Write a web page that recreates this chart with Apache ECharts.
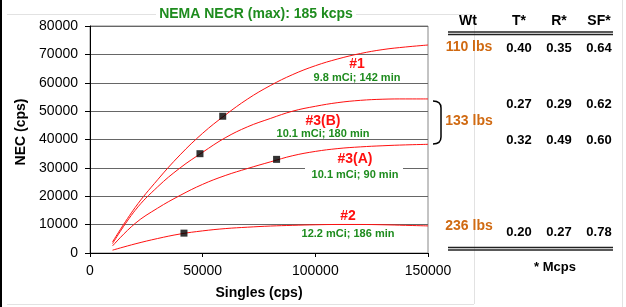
<!DOCTYPE html>
<html>
<head>
<meta charset="utf-8">
<script src="https://cdn.jsdelivr.net/npm/echarts@6/dist/echarts.min.js"></script>
<style>
  html, body { margin: 0; padding: 0; background: #fff; }
  #main { width: 626px; height: 307px; }
</style>
</head>
<body>
<div id="main"></div>
<script>
// singles rate (cps) at which each curve is read
var singles = [10000, 20000, 30000, 40000, 50000, 60000, 70000, 80000, 90000, 100000, 110000, 120000, 130000, 140000, 150000];
// NEC (cps) curves
var nec1  = [3900, 16000, 25800, 34600, 42200, 48600, 54300, 59000, 62900, 66000, 68400, 70300, 71700, 72600, 73300];
var nec3b = [3300, 15000, 23300, 30000, 35500, 40600, 44500, 47400, 50000, 51700, 53000, 53800, 54200, 54300, 54300];
var nec3a = [2500, 10400, 15800, 20300, 24200, 27300, 29800, 32100, 34300, 35800, 36800, 37400, 37800, 38100, 38300];
var nec2  = [1000, 3200, 5100, 6700, 7800, 8600, 9100, 9500, 9750, 9950, 10050, 10050, 9950, 9750, 9550];
// measured points (black squares)
var markSingles = [58900, 48800, 82800, 41700];
var markNec     = [48200, 35000, 33000, 7000];

// curve labels
var curveNames = ['#1', '#3(B)', '#3(A)', '#2'];
var curveDose  = ['9.8 mCi; 142 min', '10.1 mCi; 180 min', '10.1 mCi; 90 min', '12.2 mCi; 186 min'];

// table on the right
var tableHead = ['Wt', 'T*', 'R*', 'SF*'];
var weights   = ['110 lbs', '133 lbs', '236 lbs'];
var tVals  = ['0.40', '0.27', '0.32', '0.20'];
var rVals  = ['0.35', '0.29', '0.49', '0.27'];
var sfVals = ['0.64', '0.62', '0.60', '0.78'];

var FONT = '"Liberation Sans", Arial, sans-serif';
var RED = '#ff1010';
var GREEN = '#1e8c1e';
var ORANGE = '#d06a12';

function pairs(ys) {
  return singles.map(function (x, i) { return [x, ys[i]]; });
}

function curve(ys) {
  return {
    type: 'line',
    data: pairs(ys),
    smooth: 0.4,
    showSymbol: false,
    silent: true,
    lineStyle: { color: RED, width: 1 },
    z: 3
  };
}

var chart = echarts.init(document.getElementById('main'));

// label positions (pixels)
var labelPos = [[357, 64, 78], [323, 121, 134], [355, 159, 175], [348, 216, 234]];
var graphics = [];

// frame lines of the slide
graphics.push({ type: 'line', shape: { x1: 1, y1: 0, x2: 1, y2: 307 }, style: { stroke: '#000', lineWidth: 2 } });
graphics.push({ type: 'line', shape: { x1: 7, y1: 14.5, x2: 474, y2: 14.5 }, style: { stroke: '#e2e2e2', lineWidth: 1 } });
graphics.push({ type: 'line', shape: { x1: 474.5, y1: 14, x2: 474.5, y2: 304 }, style: { stroke: '#e2e2e2', lineWidth: 1 } });
graphics.push({ type: 'line', shape: { x1: 7, y1: 304.5, x2: 474, y2: 304.5 }, style: { stroke: '#e2e2e2', lineWidth: 1 } });
graphics.push({ type: 'line', shape: { x1: 622.5, y1: 0, x2: 622.5, y2: 307 }, style: { stroke: '#e2e2e2', lineWidth: 1 } });

// title with white background over the frame line
graphics.push({ type: 'rect', shape: { x: 156, y: 6, width: 200, height: 16 }, style: { fill: '#fff' }, z: 5 });
graphics.push({ type: 'text', x: 256, y: 14, z: 6,
  style: { text: 'NEMA NECR (max): 185 kcps', fill: GREEN, font: 'bold 14px ' + FONT, textAlign: 'center', textVerticalAlign: 'middle' } });

// y axis title
graphics.push({ type: 'text', x: 21, y: 132, rotation: Math.PI / 2, z: 6,
  style: { text: 'NEC (cps)', fill: '#000', font: 'bold 14px ' + FONT, textAlign: 'center', textVerticalAlign: 'middle' } });

// white box behind #3(A) label
graphics.push({ type: 'rect', shape: { x: 305, y: 162, width: 98, height: 14 }, style: { fill: '#fff' }, z: 1 });

curveNames.forEach(function (n, i) {
  var p = labelPos[i];
  graphics.push({ type: 'text', x: p[0], y: p[1], z: 6,
    style: { text: n, fill: RED, font: 'bold 14px ' + FONT, textAlign: 'center', textVerticalAlign: 'middle' } });
  graphics.push({ type: 'text', x: p[0], y: p[2], z: 6,
    style: { text: curveDose[i], fill: GREEN, font: 'bold 11px ' + FONT, textAlign: 'center', textVerticalAlign: 'middle' } });
});

// table
var colX = [468, 519, 559, 599];
tableHead.forEach(function (h, i) {
  graphics.push({ type: 'text', x: colX[i], y: 21, z: 6,
    style: { text: h, fill: '#000', font: 'bold 14px ' + FONT, textAlign: 'center', textVerticalAlign: 'middle' } });
});
[32, 34.5, 247.5, 250].forEach(function (y) {
  graphics.push({ type: 'line', shape: { x1: 448, y1: y, x2: 613, y2: y }, style: { stroke: '#222', lineWidth: 1.6 } });
});
var weightY = [47, 121, 226];
weights.forEach(function (w, i) {
  graphics.push({ type: 'text', x: 469, y: weightY[i], z: 6,
    style: { text: w, fill: ORANGE, font: 'bold 14px ' + FONT, textAlign: 'center', textVerticalAlign: 'middle' } });
});
var rowY = [48.5, 104, 140, 232];
rowY.forEach(function (y, i) {
  [tVals[i], rVals[i], sfVals[i]].forEach(function (v, j) {
    graphics.push({ type: 'text', x: colX[j + 1], y: y, z: 6,
      style: { text: v, fill: '#000', font: 'bold 13px ' + FONT, textAlign: 'center', textVerticalAlign: 'middle' } });
  });
});
graphics.push({ type: 'text', x: 555, y: 267, z: 6,
  style: { text: '* Mcps', fill: '#000', font: 'bold 13px ' + FONT, textAlign: 'center', textVerticalAlign: 'middle' } });
// bracket for 133 lbs
var bracketStyle = { fill: 'none', stroke: '#000', lineWidth: 1.5 };
graphics.push({ type: 'bezierCurve', z: 6, shape: { x1: 433, y1: 101, cpx1: 441, cpy1: 101, x2: 441, y2: 108 }, style: bracketStyle });
graphics.push({ type: 'line', z: 6, shape: { x1: 441, y1: 108, x2: 441, y2: 137 }, style: bracketStyle });
graphics.push({ type: 'bezierCurve', z: 6, shape: { x1: 441, y1: 137, cpx1: 441, cpy1: 144, x2: 433, y2: 144 }, style: bracketStyle });

function plain(v) { return String(v); }

chart.setOption({
  animation: false,
  backgroundColor: '#fff',
  textStyle: { fontFamily: FONT },
  grid: {
    left: 90, right: 198, top: 26, bottom: 54,
    show: true, borderColor: '#888', borderWidth: 1
  },
  xAxis: {
    type: 'value',
    min: 0, max: 150000, interval: 50000,
    name: 'Singles (cps)',
    nameLocation: 'middle',
    nameGap: 33,
    nameTextStyle: { color: '#000', fontSize: 14, fontWeight: 'bold', fontFamily: FONT },
    axisLine: { show: true, onZero: false, lineStyle: { color: '#000', width: 1 } },
    axisTick: { show: true, length: 4, lineStyle: { color: '#000' } },
    axisLabel: { color: '#000', fontSize: 14, margin: 11, fontFamily: FONT, formatter: plain },
    splitLine: { show: false }
  },
  yAxis: {
    type: 'value',
    min: 0, max: 80000, interval: 10000,
    axisLine: { show: true, lineStyle: { color: '#000', width: 1 } },
    axisTick: { show: true, length: 5, lineStyle: { color: '#000' } },
    axisLabel: { color: '#000', fontSize: 14, margin: 12, fontFamily: FONT, formatter: plain },
    splitLine: { show: true, lineStyle: { color: '#666', width: 1 } }
  },
  series: [
    curve(nec1),
    curve(nec3b),
    curve(nec3a),
    curve(nec2),
    {
      type: 'scatter',
      data: markSingles.map(function (x, i) { return [x, markNec[i]]; }),
      symbol: 'rect',
      symbolSize: 7,
      itemStyle: { color: '#000' },
      silent: true,
      z: 4
    }
  ],
  graphic: graphics
});
</script>
</body>
</html>
